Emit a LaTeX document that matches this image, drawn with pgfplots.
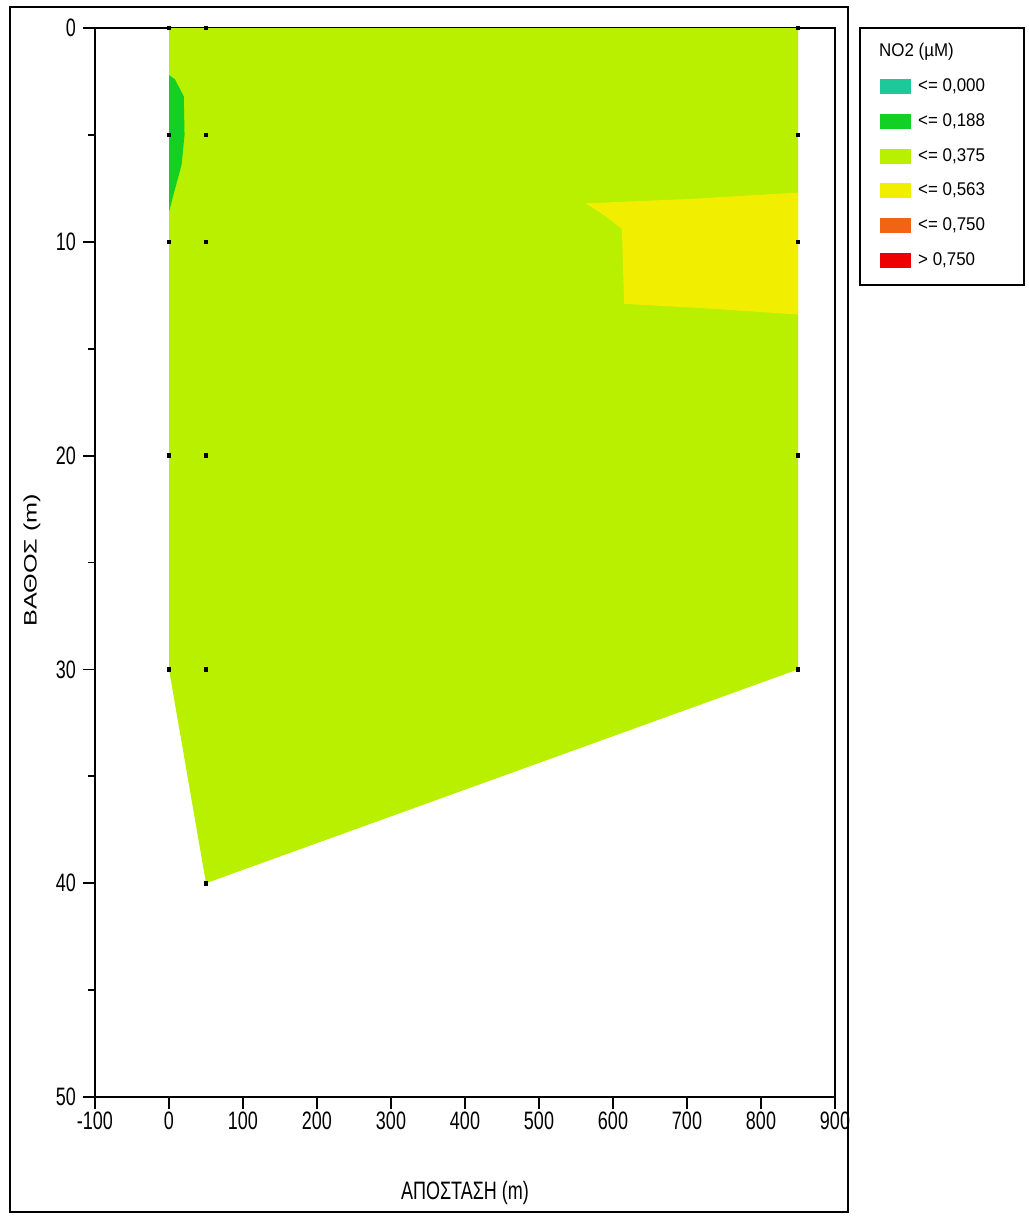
\documentclass[border=0pt]{standalone}
\usepackage{pgfplots}
\pgfplotsset{compat=1.18}
\usepackage{fontspec}
\setmainfont{Liberation Sans}
\newfontfamily\tickfont{Liberation Sans}[FakeStretch=0.714]
\newfontfamily\ylabfont{Liberation Sans}[FakeStretch=1.4]
\newfontfamily\legfont{Liberation Sans}[FakeStretch=0.92]
\definecolor{cteal}{RGB}{30,200,152}
\definecolor{cgreen}{RGB}{18,208,36}
\definecolor{cyg}{RGB}{184,240,0}
\definecolor{cyel}{RGB}{242,238,0}
\definecolor{corange}{RGB}{240,100,20}
\definecolor{cred}{RGB}{238,0,0}
\begin{document}
\begin{tikzpicture}
\useasboundingbox (0,0) rectangle (514pt,609.5pt);
\begin{axis}[
  at={(47.5pt,61pt)}, anchor=south west,
  scale only axis, width=370pt, height=534.5pt,
  xmin=-100, xmax=900, ymin=0, ymax=50, y dir=reverse,
  xtick={-100,0,100,200,300,400,500,600,700,800,900},
  ytick={0,10,20,30,40,50},
  minor ytick={5,15,25,35,45},
  tick align=outside, major tick length=6pt, minor tick length=3.5pt,
  xtick pos=lower, ytick pos=left,
  axis line style={line width=0.9pt},
  every tick/.style={black, line width=0.9pt},
  /pgf/number format/assume math mode=true,
  /pgf/number format/1000 sep={},
  ticklabel style={font=\fontsize{12.6}{14}\tickfont},
  xticklabel style={yshift=2pt},
  xlabel={ΑΠΟΣΤΑΣΗ (m)},
  ylabel={ΒΑΘΟΣ (m)},
  every axis x label/.style={at={(axis description cs:0.5,-0.0963)}, anchor=base, font=\fontsize{12.6}{14}\tickfont},
  every axis y label/.style={at={(axis description cs:-0.0851,0.502)}, rotate=90, anchor=center, font=\fontsize{9}{11}\ylabfont},
  clip=false,
  legend image code/.code={\fill[#1] (0pt,-3.5pt) rectangle (15pt,3.5pt);},
  legend cell align=left,
  legend style={at={(axis description cs:1.0608,0.9945)}, anchor=north west, draw=none, fill=none,
    inner sep=0pt, row sep=0pt, column sep=3.5pt, font=\fontsize{9.2}{11}\legfont,
    nodes={inner sep=0pt, minimum height=17.4pt}},
]
% main field (<= 0,375)
\addplot[fill=cyg, draw=none, forget plot] coordinates {
  (0,0) (850,0) (850,30) (50,40) (0,30)} -- cycle;
% green patch (<= 0,188)
\addplot[fill=cgreen, draw=none, forget plot] coordinates {
  (0,2.2) (8,2.4) (20,3.2) (21,5.0) (17,6.4) (6,7.8) (0,8.6)} -- cycle;
% yellow patch (<= 0,563)
\addplot[fill=cyel, draw=none, forget plot] coordinates {
  (563,8.2) (700,8.0) (850,7.7) (850,13.4) (720,13.1) (615,12.9) (612,9.4) (590,8.8)} -- cycle;
% sampling points
\addplot[only marks, mark=square*, mark size=0.9pt, black, forget plot] coordinates {
  (0,0) (0,5) (0,10) (0,20) (0,30)
  (50,0) (50,5) (50,10) (50,20) (50,30) (50,40)
  (850,0) (850,5) (850,10) (850,20) (850,30)};
% legend
\addlegendimage{empty legend}
\addlegendentry{\hspace*{-19.5pt}NO2 (µM)}
\addlegendimage{cteal}\addlegendentry{<= 0,000}
\addlegendimage{cgreen}\addlegendentry{<= 0,188}
\addlegendimage{cyg}\addlegendentry{<= 0,375}
\addlegendimage{cyel}\addlegendentry{<= 0,563}
\addlegendimage{corange}\addlegendentry{<= 0,750}
\addlegendimage{cred}\addlegendentry{> 0,750}
\end{axis}
\draw[line width=0.9pt] (5pt,3.5pt) rectangle (424pt,606pt);
\draw[line width=0.9pt] (430pt,467pt) rectangle (512pt,595.5pt);
\end{tikzpicture}
\end{document}
